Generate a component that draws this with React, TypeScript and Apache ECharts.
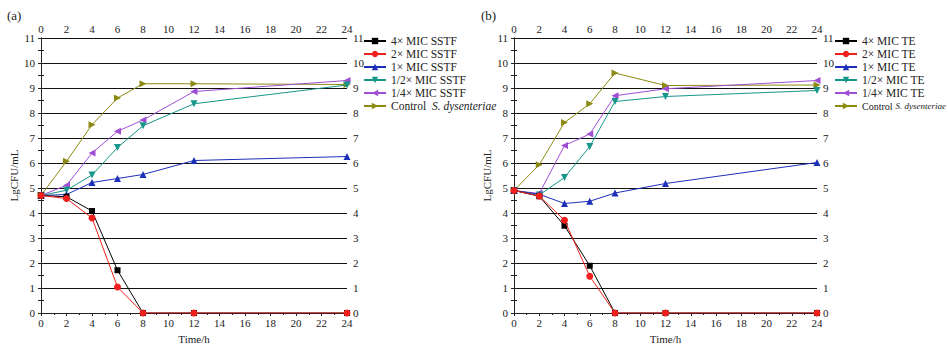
import React, { useEffect, useRef } from "react";
import * as echarts from "echarts";

const times = [0, 2, 4, 6, 8, 12, 24];

const namesA = ["4× MIC SSTF", "2× MIC SSTF", "1× MIC SSTF", "1/2× MIC SSTF", "1/4× MIC SSTF", "Control S. dysenteriae"];
const namesB = ["4× MIC TE", "2× MIC TE", "1× MIC TE", "1/2× MIC TE", "1/4× MIC TE", "Control S. dysenteriae"];

const a4x = [4.7, 4.65, 4.08, 1.71, 0, 0, 0];
const a2x = [4.7, 4.58, 3.8, 1.04, 0, 0, 0];
const a1x = [4.7, 4.74, 5.22, 5.38, 5.54, 6.1, 6.26];
const aHalf = [4.7, 4.91, 5.52, 6.62, 7.49, 8.37, 9.12];
const aQuarter = [4.7, 5.11, 6.4, 7.27, 7.72, 8.86, 9.3];
const aControl = [4.7, 6.07, 7.53, 8.6, 9.17, 9.17, 9.14];

const b4x = [4.9, 4.67, 3.49, 1.89, 0, 0, 0];
const b2x = [4.9, 4.68, 3.71, 1.47, 0, 0, 0];
const b1x = [4.9, 4.75, 4.38, 4.47, 4.8, 5.18, 6.02];
const bHalf = [4.9, 4.72, 5.42, 6.66, 8.46, 8.66, 8.9];
const bQuarter = [4.9, 4.78, 6.7, 7.16, 8.69, 8.97, 9.3];
const bControl = [4.9, 5.93, 7.62, 8.37, 9.6, 9.1, 9.12];

const xTicks = [0, 24, 2];
const yTicks = [0, 11, 1];

const colors = ["#000000", "#f0201c", "#1c2fb8", "#17968a", "#a04fd4", "#8c8a12"];
const symbols = ["rect", "circle", "triangle", "triangle", "triangle", "triangle"];
const rotations = [0, 0, 0, 180, 90, -90];
const zOrder = [9, 10, 8, 7, 6, 5];

const FONT = "Liberation Serif";

export default function App() {
  const ref = useRef<HTMLDivElement>(null);
  useEffect(() => {
    if (!ref.current) return;
    const chart = echarts.init(ref.current, null, { renderer: "svg" });

    const grids = [
      { left: 41, top: 38, width: 306, height: 275, outerBoundsMode: "none" },
      { left: 514, top: 38, width: 303, height: 275, outerBoundsMode: "none" },
    ];

    const xAxes: any[] = [];
    const yAxes: any[] = [];
    [0, 1].forEach((g) => {
      ["bottom", "top"].forEach((pos) => {
        xAxes.push({
          type: "value",
          gridIndex: g,
          position: pos,
          min: xTicks[0],
          max: xTicks[1],
          interval: xTicks[2],
          name: pos === "bottom" ? "Time/h" : "",
          nameLocation: "middle",
          nameGap: 20,
          nameTextStyle: { fontFamily: FONT, fontSize: 11, color: "#222" },
          axisLine: { show: true, lineStyle: { color: "#222", width: 1 } },
          axisTick: { show: true, inside: pos === "top", length: 3, lineStyle: { color: "#222" } },
          minorTick: { show: true, splitNumber: 2, length: 2, lineStyle: { color: "#222" } },
          axisLabel: { fontFamily: FONT, fontSize: 11, color: "#222", margin: 4 },
          splitLine: { show: false },
        });
      });
      ["left", "right"].forEach((pos) => {
        yAxes.push({
          type: "value",
          gridIndex: g,
          position: pos,
          min: yTicks[0],
          max: yTicks[1],
          interval: yTicks[2],
          name: pos === "left" ? "LgCFU/mL" : "",
          nameLocation: "middle",
          nameGap: 22,
          nameTextStyle: { fontFamily: FONT, fontSize: 11, color: "#222" },
          axisLine: { show: true, lineStyle: { color: "#222", width: 1 } },
          axisTick: { show: true, inside: true, length: 3, lineStyle: { color: "#222" } },
          minorTick: { show: true, splitNumber: 2, length: 3, lineStyle: { color: "#222" } },
          axisLabel: { fontFamily: FONT, fontSize: 11, color: "#222", margin: 6 },
          splitLine: pos === "left" ? { show: true, lineStyle: { color: "#111", width: 1.2 } } : { show: false },
        });
      });
    });

    const mk = (names: string[], datas: number[][], axisIdx: number) =>
      datas.map((vals, i) => ({
        type: "line",
        name: names[i],
        xAxisIndex: axisIdx,
        yAxisIndex: axisIdx,
        data: vals.map((v, k) => [times[k], v]),
        symbol: symbols[i],
        symbolSize: i === 0 ? 6 : 7,
        symbolRotate: rotations[i],
        showAllSymbol: true,
        lineStyle: { color: colors[i], width: 1 },
        itemStyle: { color: colors[i] },
        z: zOrder[i],
      }));

    const series = [
      ...mk(namesA, [a4x, a2x, a1x, aHalf, aQuarter, aControl], 0),
      ...mk(namesB, [b4x, b2x, b1x, bHalf, bQuarter, bControl], 2),
    ];

    const legendBase = (small: boolean) => ({
      orient: "vertical",
      top: 35,
      padding: 0,
      itemWidth: 22,
      itemHeight: 8,
      itemGap: 1,
      selectedMode: false,
      width: 200,
      textStyle: {
        fontFamily: FONT,
        fontSize: 11.5,
        color: "#222",
        lineHeight: 12,
        overflow: "none",
        rich: {
          n: { fontFamily: FONT, fontSize: small ? 10 : 11.5, color: "#222", lineHeight: 12 },
          i: { fontFamily: FONT, fontSize: small ? 9 : 11.5, fontStyle: "italic", color: "#222", lineHeight: 12 },
        },
      },
      formatter: (name: string) =>
        name.startsWith("Control")
          ? small
            ? "{n|Control} {i|S. dysenteriae}"
            : "{n|Control}  {i|S. dysenteriae}"
          : name,
    });

    chart.setOption({
      animation: false,
      backgroundColor: "#ffffff",
      grid: grids,
      xAxis: xAxes,
      yAxis: yAxes,
      legend: [
        { ...legendBase(false), left: 363, data: namesA },
        { ...legendBase(true), left: 834, data: namesB },
      ],
      graphic: [
        { type: "text", left: 7, top: 9, style: { text: "(a)", font: `13px "${FONT}"`, fill: "#222" } },
        { type: "text", left: 481, top: 9, style: { text: "(b)", font: `13px "${FONT}"`, fill: "#222" } },
      ],
      series,
    });
    return () => chart.dispose();
  }, []);
  return <div ref={ref} style={{ width: 948, height: 346, position: "absolute", left: 0, top: 0 }} />;
}
